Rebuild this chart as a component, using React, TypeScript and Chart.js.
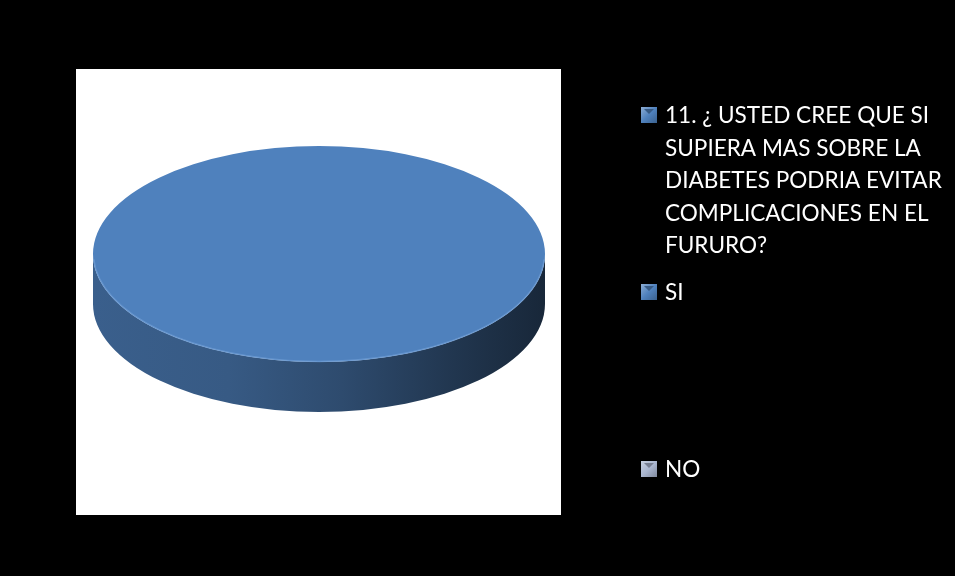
import React, { useEffect, useRef } from "react";
import { Chart, registerables } from "chart.js";

Chart.register(...registerables);

// ---- data ----
const categories: (string | string[])[] = [
  [
    "11. ¿ USTED CREE QUE SI",
    "SUPIERA MAS SOBRE LA",
    "DIABETES PODRIA EVITAR",
    "COMPLICACIONES EN EL",
    "FURURO?",
  ],
  "SI",
  "NO",
];
const values = [0, 100, 0];
const sliceColors = ["#4F81BD", "#4F81BD", "#AAB6D0"];

// ---- layout / style constants ----
const W = 955;
const H = 576;
const PLOT_BOX = { x: 76, y: 69, w: 485, h: 446 };
const FACE_CY = 254;
const TILT = 108 / 226;
const DEPTH = 50;
const LEG = { markX: 641, mark: 16, textX: 665, firstBase: 123, gap: 177, lineH: 32.5, textW: 277 };

function rgb(hex: string): [number, number, number] {
  const n = parseInt(hex.slice(1), 16);
  return [(n >> 16) & 255, (n >> 8) & 255, n & 255];
}
function shade(hex: string, f: number) {
  const [r, g, b] = rgb(hex);
  return `rgb(${Math.round(r * f)},${Math.round(g * f)},${Math.round(b * f)})`;
}
function tint(hex: string, f: number) {
  const [r, g, b] = rgb(hex);
  return `rgb(${Math.round(r + (255 - r) * f)},${Math.round(g + (255 - g) * f)},${Math.round(b + (255 - b) * f)})`;
}

const pie3d = {
  id: "pie3d",
  beforeDraw(chart: any) {
    const ctx = chart.ctx;
    ctx.save();
    ctx.fillStyle = "#000";
    ctx.fillRect(0, 0, chart.width, chart.height);
    ctx.fillStyle = "#fff";
    ctx.fillRect(PLOT_BOX.x, PLOT_BOX.y, PLOT_BOX.w, PLOT_BOX.h);
    ctx.restore();
  },
  beforeDatasetsDraw(chart: any) {
    const ctx = chart.ctx;
    const meta = chart.getDatasetMeta(0);
    const arcs = meta.data;
    const cy0 = arcs.length ? arcs[0].y : chart.chartArea.top + chart.chartArea.height / 2;
    ctx.save();
    ctx.translate(0, FACE_CY);
    ctx.scale(1, TILT);
    ctx.translate(0, -cy0);
    const D = DEPTH / TILT;
    arcs.forEach((arc: any, i: number) => {
      const p = arc.getProps(["x", "y", "startAngle", "endAngle", "outerRadius"]);
      if (p.endAngle - p.startAngle <= 1e-6) return;
      const color = sliceColors[i];
      for (let k = -2; k <= 2; k++) {
        const base = k * 2 * Math.PI;
        const lo = Math.max(p.startAngle, base);
        const hi = Math.min(p.endAngle, base + Math.PI);
        if (hi - lo <= 1e-6) continue;
        const r = p.outerRadius;
        const g = ctx.createLinearGradient(p.x - r, 0, p.x + r, 0);
        g.addColorStop(0, shade(color, 0.74));
        g.addColorStop(0.3, shade(color, 0.7));
        g.addColorStop(0.55, shade(color, 0.58));
        g.addColorStop(0.8, shade(color, 0.42));
        g.addColorStop(1, shade(color, 0.3));
        ctx.beginPath();
        ctx.moveTo(p.x + r * Math.cos(lo), p.y + r * Math.sin(lo));
        ctx.lineTo(p.x + r * Math.cos(lo), p.y + D + r * Math.sin(lo));
        ctx.arc(p.x, p.y + D, r, lo, hi, false);
        ctx.lineTo(p.x + r * Math.cos(hi), p.y + r * Math.sin(hi));
        ctx.arc(p.x, p.y, r, hi, lo, true);
        ctx.closePath();
        ctx.fillStyle = g;
        ctx.fill();
      }
    });
  },
  afterDatasetsDraw(chart: any) {
    const ctx = chart.ctx;
    ctx.restore();
    const meta = chart.getDatasetMeta(0);
    const arcs = meta.data;
    if (!arcs.length) return;
    const p = arcs[0].getProps(["x", "outerRadius"]);
    ctx.save();
    ctx.beginPath();
    ctx.ellipse(p.x, FACE_CY, p.outerRadius - 0.5, p.outerRadius * TILT - 0.5, 0, 0.05, Math.PI - 0.05);
    ctx.strokeStyle = "rgba(120,165,220,0.55)";
    ctx.lineWidth = 1.5;
    ctx.stroke();
    ctx.restore();
  },
  afterDraw(chart: any) {
    const ctx = chart.ctx;
    const labels = chart.data.labels as (string | string[])[];
    const fam = "Lato, 'Open Sans', sans-serif";
    ctx.save();
    ctx.font = `24px ${fam}`;
    let maxW = 0;
    labels.forEach((l) => {
      (Array.isArray(l) ? l : [l]).forEach((t) => {
        maxW = Math.max(maxW, ctx.measureText(t).width);
      });
    });
    const size = maxW > 0 ? (24 * LEG.textW) / maxW : 22;
    ctx.font = `${size}px ${fam}`;
    ctx.textBaseline = "alphabetic";
    ctx.textAlign = "left";
    labels.forEach((l, i) => {
      const lines = Array.isArray(l) ? l : [l];
      const base = LEG.firstBase + i * LEG.gap;
      const color = sliceColors[i];
      const mx = LEG.markX;
      const my = base - LEG.mark;
      const m = LEG.mark;
      const g = ctx.createLinearGradient(mx, my, mx + m, my + m);
      g.addColorStop(0, tint(color, 0.35));
      g.addColorStop(0.5, color);
      g.addColorStop(1, shade(color, 0.75));
      ctx.fillStyle = g;
      ctx.fillRect(mx, my, m, m);
      ctx.fillStyle = shade(color, 0.7);
      ctx.beginPath();
      ctx.moveTo(mx + 3, my + 2);
      ctx.lineTo(mx + m - 3, my + 2);
      ctx.lineTo(mx + m / 2, my + 7);
      ctx.closePath();
      ctx.fill();
      ctx.fillStyle = "#ffffff";
      lines.forEach((t, j) => {
        ctx.fillText(t, LEG.textX, base + j * LEG.lineH);
      });
    });
    ctx.restore();
  },
};

export default function App() {
  const ref = useRef<HTMLCanvasElement | null>(null);
  useEffect(() => {
    if (!ref.current) return;
    const chart = new Chart(ref.current, {
      type: "pie",
      data: {
        labels: categories as any,
        datasets: [
          {
            data: values,
            backgroundColor: sliceColors,
            borderWidth: 0,
            hoverOffset: 0,
            offset: 0,
            clip: false as any,
          } as any,
        ],
      },
      options: {
        responsive: false,
        animation: false,
        events: [],
        layout: { padding: { left: 93, right: 410, top: 62, bottom: 62 } },
        plugins: {
          legend: { display: false },
          tooltip: { enabled: false },
        },
      },
      plugins: [pie3d],
    });
    return () => chart.destroy();
  }, []);
  return (
    <div style={{ position: "fixed", left: 0, top: 0, width: W, height: H, background: "#000" }}>
      <canvas ref={ref} width={W} height={H} style={{ display: "block", width: W, height: H }} />
    </div>
  );
}
